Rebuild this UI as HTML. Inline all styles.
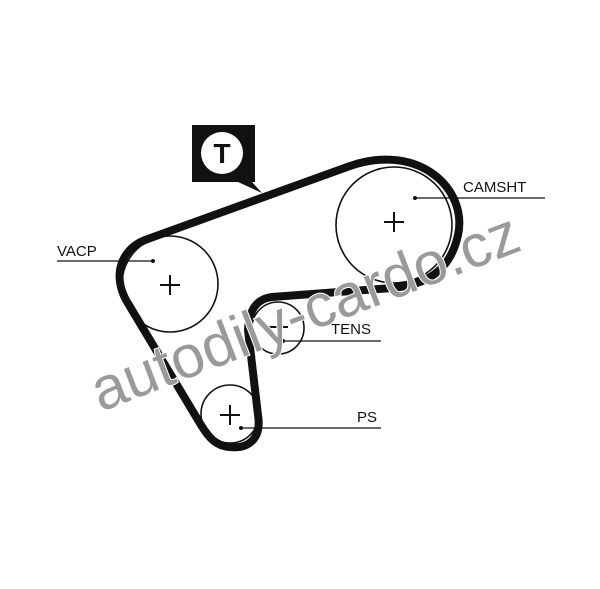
<!DOCTYPE html>
<html><head><style>
html,body{margin:0;padding:0;background:#fff;}
svg{display:block;}
</style></head><body>
<svg width="600" height="589" viewBox="0 0 600 589" xmlns="http://www.w3.org/2000/svg">
<rect width="600" height="589" fill="#fff"/>
<g fill="none" stroke="#111" stroke-width="1.6">
<circle cx="394" cy="225" r="58"/>
<circle cx="170" cy="284" r="48"/>
<circle cx="278" cy="328" r="26"/>
<circle cx="230" cy="414" r="29"/>
</g>
<g stroke="#111" stroke-width="2">
<path d="M384,222h20M394,212v20"/>
<path d="M160,285h20M170,275v20"/>
<path d="M268,327h20M278,317v20"/>
<path d="M220,415h20M230,405v20"/>
</g>
<path d="M145,240 L350,166 C420,142 468,190 458,235 C450,272 425,285 392,288 L272,297 C255,299 249,312 248,330 L258,415 C262,440 247,449 230,447 C216,446 209,438 201,425 L126,300 C113,276 120,250 145,240 Z" fill="none" stroke="#111" stroke-width="8" stroke-linejoin="round"/>
<g stroke="#111" stroke-width="1.3">
<line x1="415" y1="198" x2="545" y2="198"/>
<line x1="57" y1="261" x2="153" y2="261"/>
<line x1="283" y1="341" x2="381" y2="341"/>
<line x1="241" y1="428" x2="381" y2="428"/>
</g>
<g fill="#111">
<circle cx="415" cy="198" r="2"/><circle cx="153" cy="261" r="2"/>
<circle cx="283" cy="341" r="2"/><circle cx="241" cy="428" r="2"/>
</g>
<g font-family="Liberation Sans, sans-serif" font-size="15" fill="#111">
<text x="463" y="192">CAMSHT</text>
<text x="57" y="256">VACP</text>
<text x="331" y="334">TENS</text>
<text x="357" y="422">PS</text>
</g>
<path d="M192,125 H255 V182 H252 L262,193 L238,182 H192 Z" fill="#111"/>
<circle cx="222" cy="153" r="21" fill="#fff"/>
<text x="222" y="163" text-anchor="middle" font-family="Liberation Sans, sans-serif" font-weight="bold" font-size="28" fill="#111">T</text>
<text x="305" y="332" text-anchor="middle" transform="rotate(-21 305 312)" font-family="Liberation Sans, sans-serif" font-size="60" fill="#9a9a9a" stroke="#fff" stroke-width="2" paint-order="stroke">autodily-cardo.cz</text>
</svg>
</body></html>
